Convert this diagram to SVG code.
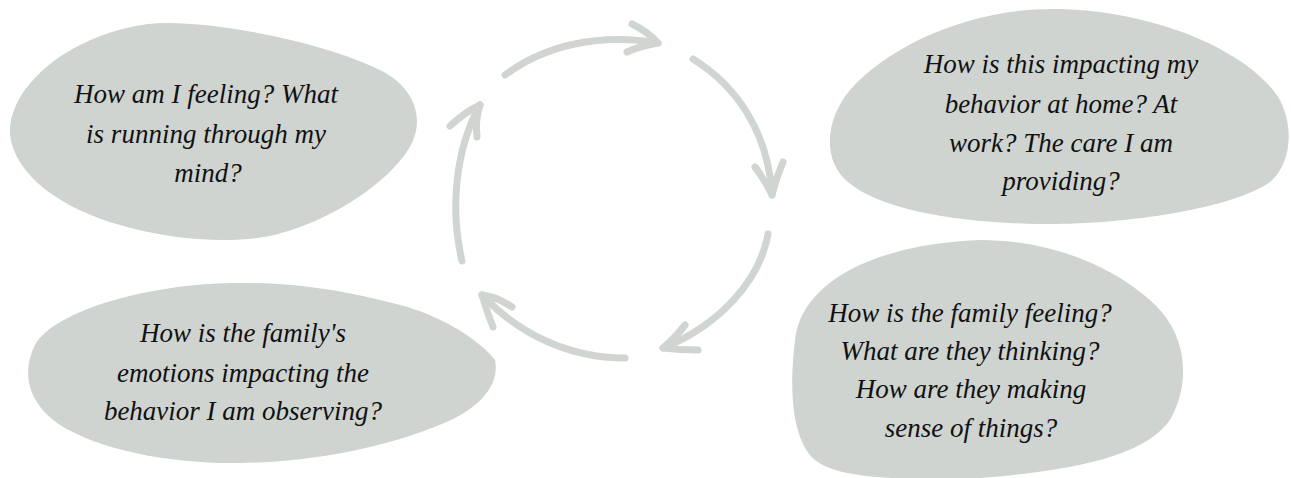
<svg xmlns="http://www.w3.org/2000/svg" width="1291" height="478" viewBox="0 0 1291 478">
<style>
.blob{fill:#cfd4d0;stroke:none}
.t{font-family:"Liberation Serif","Times New Roman",serif;font-style:italic;font-size:27px;fill:#111;text-anchor:middle}
.a{fill:none;stroke:#d0d5d1;stroke-width:7;stroke-linecap:round;stroke-linejoin:round}
</style>
<rect width="1291" height="478" fill="#ffffff"/>
<g id="node-mind">
<path class="blob" d="M167,23 C230,23 330,45 380,70 C410,85 422,110 415,135 C405,170 340,220 270,236 C230,244 170,240 120,225 C60,208 15,175 10,135 C8,100 40,65 80,45 C110,30 140,23 167,23 Z"/>
<text class="t" x="206" y="103">How am I feeling? What</text>
<text class="t" x="206" y="143">is running through my</text>
<text class="t" x="208" y="182">mind?</text>
</g>
<g id="node-behavior">
<path class="blob" d="M1053,9 C1150,9 1250,50 1280,100 C1295,130 1290,165 1270,182 C1230,210 1120,225 1040,224 C960,223 880,210 848,182 C822,160 825,120 850,90 C890,45 970,9 1053,9 Z"/>
<text class="t" x="1061" y="73">How is this impacting my</text>
<text class="t" x="1061" y="113">behavior at home? At</text>
<text class="t" x="1061" y="152">work? The care I am</text>
<text class="t" x="1061" y="190">providing?</text>
</g>
<g id="node-family-feeling">
<path class="blob" d="M980,240 C1050,240 1110,265 1150,300 C1190,335 1190,385 1170,420 C1145,455 1080,470 980,478 C900,480 830,480 810,455 C790,430 790,380 795,340 C800,290 860,245 980,240 Z"/>
<text class="t" x="970" y="322">How is the family feeling?</text>
<text class="t" x="970" y="360">What are they thinking?</text>
<text class="t" x="971" y="398">How are they making</text>
<text class="t" x="971" y="437">sense of things?</text>
</g>
<g id="node-family-emotions">
<path class="blob" d="M233,283 C300,282 350,292 400,305 C440,315 480,340 495,360 C500,385 480,405 455,418 C410,440 330,462 240,463 C170,464 100,450 60,425 C30,405 20,375 35,345 C55,310 150,284 233,283 Z"/>
<text class="t" x="243" y="342">How is the family's</text>
<text class="t" x="243" y="382">emotions impacting the</text>
<text class="t" x="243" y="420">behavior I am observing?</text>
</g>
<g id="connectors">
<path class="a" d="M505,75 C545,45 600,33 658,43"/>
<path class="a" d="M632,24 Q648,32 658,43 Q640,46 627,52"/>
<path class="a" d="M693,59 C735,85 768,130 772,195"/>
<path class="a" d="M755,167 Q765,180 772,195 Q776,178 783,162"/>
<path class="a" d="M768,234 C760,280 720,325 663,348"/>
<path class="a" d="M685,325 Q675,338 663,348 Q680,350 698,350"/>
<path class="a" d="M625,358 C570,358 520,335 482,295"/>
<path class="a" d="M512,307 Q495,296 482,295 Q487,312 493,327"/>
<path class="a" d="M462,261 C450,210 455,150 480,105"/>
<path class="a" d="M450,126 Q465,112 480,105 Q475,120 477,137"/>
</g>
</svg>
